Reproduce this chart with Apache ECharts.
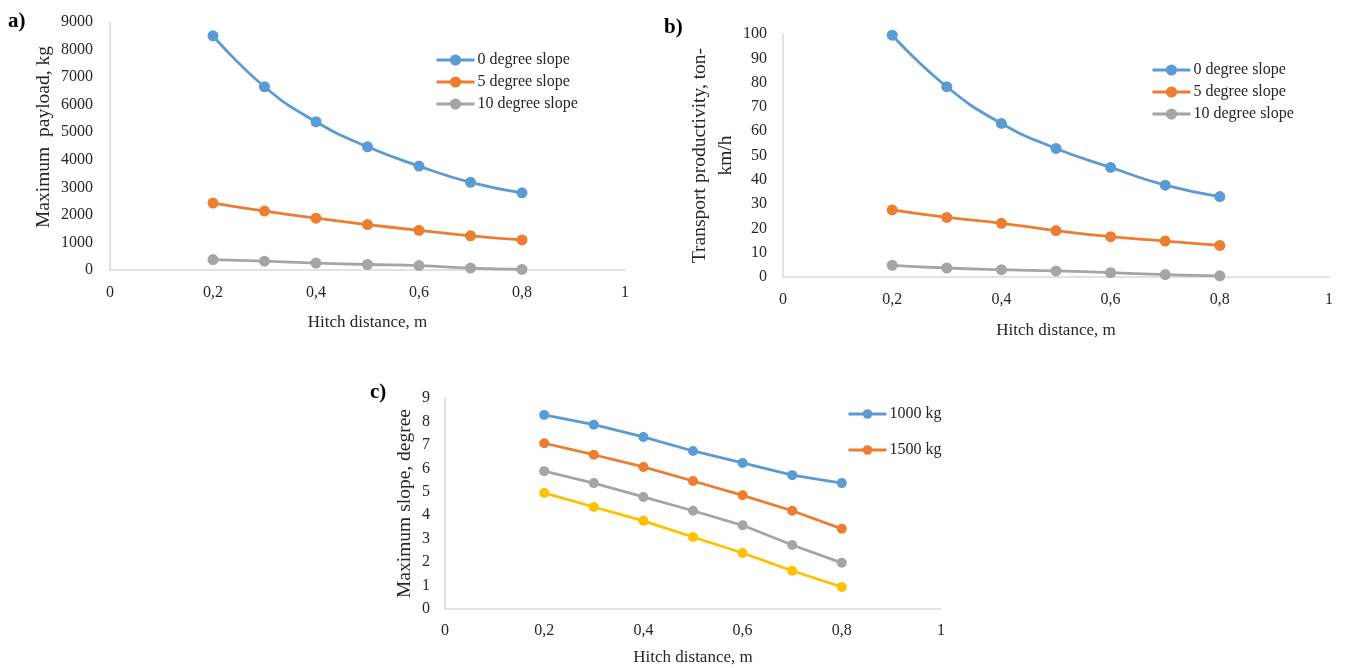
<!DOCTYPE html>
<html>
<head>
<meta charset="utf-8">
<script src="https://cdn.jsdelivr.net/npm/echarts@6/dist/echarts.min.js"></script>
<style>
html,body{margin:0;padding:0;background:#fff;}
#chart{width:1346px;height:668px;}
</style>
</head>
<body>
<div id="chart"></div>
<script>
// ---- data ----
const hitch = [0.2, 0.3, 0.4, 0.5, 0.6, 0.7, 0.8];

const payloadNames = ['0 degree slope', '5 degree slope', '10 degree slope'];
const payload0 = [8500, 6650, 5380, 4470, 3770, 3180, 2800];
const payload5 = [2430, 2140, 1880, 1650, 1440, 1240, 1090];
const payload10 = [380, 320, 250, 200, 160, 70, 20];

const prod0 = [99.5, 78.3, 63.2, 52.9, 45.1, 37.8, 33.1];
const prod5 = [27.6, 24.5, 22.1, 19.1, 16.6, 14.8, 13.0];
const prod10 = [4.8, 3.7, 3.0, 2.5, 1.8, 1.0, 0.5];

const slopeNames = ['1000 kg', '1500 kg', '2000 kg', '2500 kg'];
const slope1000 = [8.28, 7.86, 7.34, 6.74, 6.23, 5.71, 5.37];
const slope1500 = [7.07, 6.58, 6.06, 5.46, 4.85, 4.19, 3.42];
const slope2000 = [5.88, 5.37, 4.78, 4.19, 3.57, 2.73, 1.97];
const slope2500 = [4.95, 4.35, 3.76, 3.07, 2.39, 1.63, 0.94];

const colors = ['#5B9BD5', '#ED7D31', '#A5A5A5', '#FFC000'];

// ---- build ----
const FONT = 'Liberation Serif';
const TXT = '#262626';
const AX = '#D9D9D9';
const pairs = v => hitch.map((x, i) => [x, v[i]]);

function xAxis(gridIndex, gap, margin) {
  return {
    type: 'value', gridIndex, min: 0, max: 1, interval: 0.2,
    name: 'Hitch distance, m', nameLocation: 'middle', nameGap: gap,
    nameTextStyle: { fontFamily: FONT, fontSize: 17, color: TXT },
    axisLine: { show: true, lineStyle: { color: AX, width: 1.5 } },
    axisTick: { show: false }, splitLine: { show: false },
    axisLabel: { fontFamily: FONT, fontSize: 16, color: TXT, margin,
      formatter: v => String(Number(v.toFixed(1))).replace('.', ',') }
  };
}
function yAxis(gridIndex, name, max, interval, gap, margin, pad) {
  return {
    type: 'value', gridIndex, min: 0, max, interval,
    name, nameLocation: 'middle', nameGap: gap, nameRotate: 90,
    nameTextStyle: { fontFamily: FONT, fontSize: 19.5, color: TXT, lineHeight: 26, padding: pad },
    axisLine: { show: true, lineStyle: { color: AX, width: 1.5 } },
    axisTick: { show: false }, splitLine: { show: false },
    axisLabel: { fontFamily: FONT, fontSize: 16, color: TXT, margin,
      formatter: v => String(v) }
  };
}
function line(name, data, idx, axis, smooth, sym) {
  return {
    type: 'line', name, data: pairs(data), xAxisIndex: axis, yAxisIndex: axis,
    smooth, symbol: 'circle', symbolSize: sym,
    itemStyle: { color: colors[idx] },
    lineStyle: { color: colors[idx], width: 2.8 },
    emphasis: { disabled: true }, animation: false
  };
}
function legend(data, left, top, gap, h) {
  return {
    data, orient: 'vertical', left, top, itemGap: gap,
    itemWidth: 38, itemHeight: h,
    lineStyle: { width: 3 },
    textStyle: { fontFamily: FONT, fontSize: 16, color: TXT, padding: [0, 0, 0, -2] }
  };
}

const option = {
  animation: false,
  grid: [
    { left: 110, top: 22, width: 515, height: 248 },
    { left: 783, top: 34, width: 546, height: 243 },
    { left: 445, top: 398, width: 496, height: 211 }
  ],
  xAxis: [xAxis(0, 44, 15), xAxis(1, 45, 15), xAxis(2, 40, 14)],
  yAxis: [
    yAxis(0, 'Maximum  payload, kg', 9000, 1000, 52, 17, [0, 0, 0, 18]),
    yAxis(1, 'Transport productivity, ton-\nkm/h', 100, 10, 43, 16, 0),
    yAxis(2, 'Maximum slope, degree', 9, 1, 27, 15, 0)
  ],
  legend: [
    legend(payloadNames, 430, 47, 6, 14),
    legend(payloadNames, 1146, 57, 6, 14),
    legend(slopeNames.slice(0, 2), 842, 401, 20, 12)
  ],
  graphic: [
    { type: 'text', left: 8, top: 11, style: { text: 'a)', font: 'bold 21px "Liberation Serif"', fill: '#000' } },
    { type: 'text', left: 664, top: 17, style: { text: 'b)', font: 'bold 21px "Liberation Serif"', fill: '#000' } },
    { type: 'text', left: 370, top: 382, style: { text: 'c)', font: 'bold 21px "Liberation Serif"', fill: '#000' } }
  ],
  series: [
    line(payloadNames[0], payload0, 0, 0, true, 11),
    line(payloadNames[1], payload5, 1, 0, true, 11),
    line(payloadNames[2], payload10, 2, 0, true, 11),
    line(payloadNames[0], prod0, 0, 1, true, 11),
    line(payloadNames[1], prod5, 1, 1, true, 11),
    line(payloadNames[2], prod10, 2, 1, true, 11),
    line(slopeNames[0], slope1000, 0, 2, false, 10),
    line(slopeNames[1], slope1500, 1, 2, false, 10),
    line(slopeNames[2], slope2000, 2, 2, false, 10),
    line(slopeNames[3], slope2500, 3, 2, false, 10)
  ]
};

const chart = echarts.init(document.getElementById('chart'), null, { renderer: 'canvas' });
chart.setOption(option);
</script>
</body>
</html>
